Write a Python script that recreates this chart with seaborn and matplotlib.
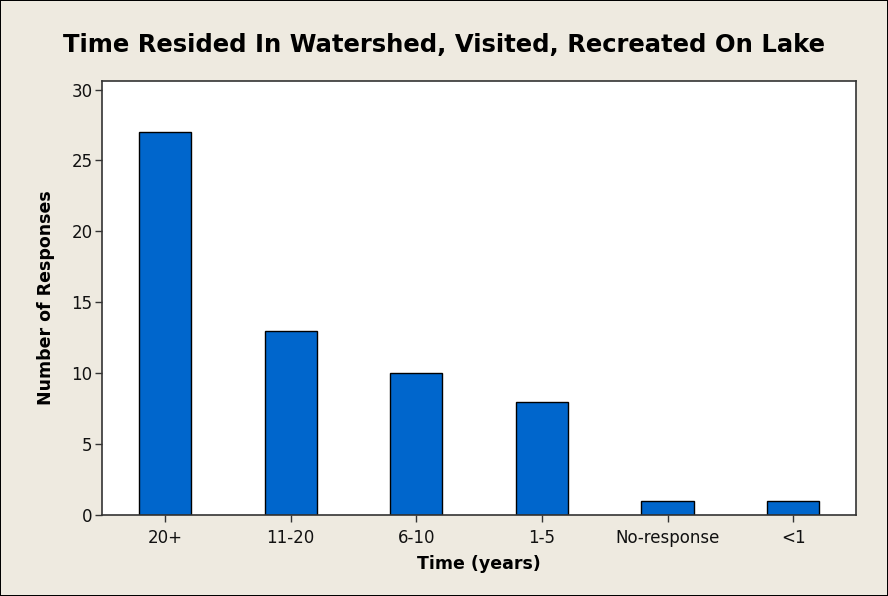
import pandas as pd
import matplotlib.pyplot as plt
import seaborn as sns

# data
categories = ["20+", "11-20", "6-10", "1-5", "No-response", "<1"]
responses = [27, 13, 10, 8, 1, 1]

df = pd.DataFrame({"Time": categories, "Responses": responses})

sns.set_style("white")
plt.rcParams["font.family"] = ["DejaVu Sans"]
plt.rcParams["text.color"] = "black"

bg = "#EEEAE0"
fig = plt.figure(figsize=(8.88, 5.96), dpi=100, facecolor=bg,
                 edgecolor="black", linewidth=1.2)
ax = fig.add_axes([0.115, 0.136, 0.849, 0.728])
ax.set_facecolor("white")

sns.barplot(data=df, x="Time", y="Responses", color="#0066CC",
            saturation=1, width=0.415, edgecolor="black", linewidth=1,
            ax=ax)

ax.set_xlim(-0.5, 5.5)
ax.set_ylim(0, 30.6)
ax.set_yticks([0, 5, 10, 15, 20, 25, 30])

for s in ax.spines.values():
    s.set_visible(True)
    s.set_color("#333333")
    s.set_linewidth(1.2)

ax.tick_params(axis="both", direction="out", length=5, width=1,
               color="#333333", labelsize=12, labelcolor="#111111",
               left=True, bottom=True, pad=2)
ax.tick_params(axis="x", pad=5)

ax.set_xlabel("Time (years)", fontsize=12.5, fontweight="bold",
              color="black", labelpad=6)
ax.set_ylabel("Number of Responses", fontsize=12.5, fontweight="bold",
              color="black", labelpad=12)
fig.suptitle("Time Resided In Watershed, Visited, Recreated On Lake",
             fontsize=17.5, fontweight="bold", color="black", y=0.945)

fig.savefig("out.png", dpi=100, facecolor=bg, edgecolor="black")
